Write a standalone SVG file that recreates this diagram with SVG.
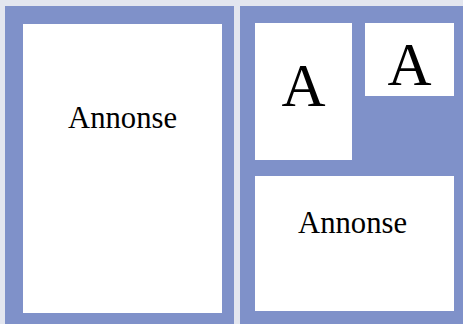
<svg xmlns="http://www.w3.org/2000/svg" width="463" height="324" viewBox="0 0 463 324">
<style>
.panel{fill:#7f91c9}
.box{fill:#ffffff}
.t{font-family:"Liberation Serif","Times New Roman",serif;fill:#000;text-anchor:middle}
.big{font-size:61px}
.mid{font-size:32px}
</style>
<rect x="0" y="0" width="463" height="324" fill="#e3e6ef"/>
<g id="left-page">
<rect class="panel" x="5" y="6" width="229" height="318"/>
<rect class="box" x="23" y="24" width="199" height="289"/>
<text class="t mid" x="122.5" y="128" textLength="109" lengthAdjust="spacingAndGlyphs">Annonse</text>
</g>
<g id="right-page">
<rect class="panel" x="240" y="6" width="223" height="318"/>
</g>
<g id="box-a1">
<rect class="box" x="255" y="23" width="97" height="137"/>
<text class="t big" x="303.5" y="106">A</text>
</g>
<g id="box-a2">
<rect class="box" x="365" y="23" width="89" height="73"/>
<text class="t big" x="409.5" y="85">A</text>
</g>
<g id="box-annonse">
<rect class="box" x="255" y="176" width="199" height="135"/>
<text class="t mid" x="352.5" y="232.5" textLength="109" lengthAdjust="spacingAndGlyphs">Annonse</text>
</g>
<g id="connectors"/>
</svg>
